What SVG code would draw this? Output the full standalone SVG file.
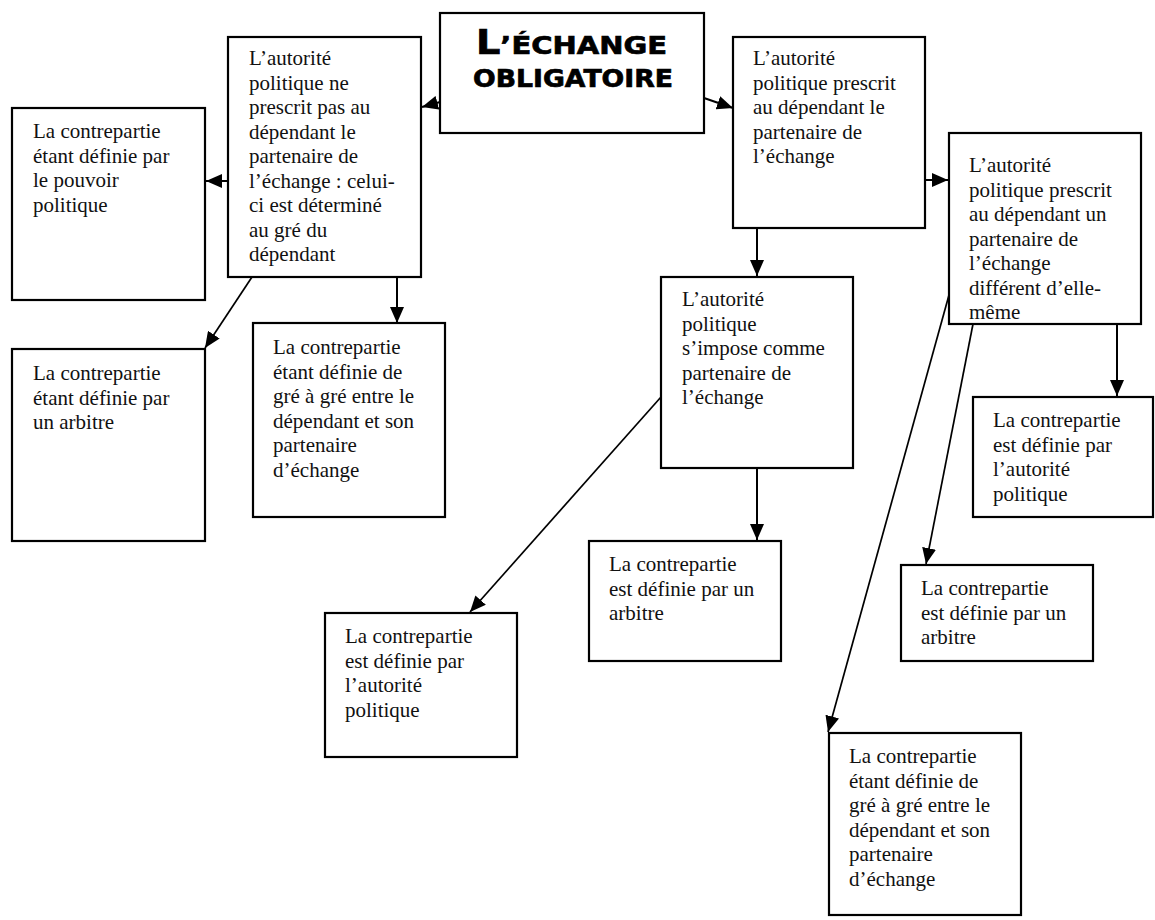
<svg xmlns="http://www.w3.org/2000/svg" width="1155" height="920" viewBox="0 0 1155 920">
<style>
.box{fill:#fff;stroke:#000;stroke-width:2.2}
.t{font-family:"Liberation Serif","Times New Roman",serif;font-size:21px;fill:#111}
.title{font-family:"DejaVu Sans",sans-serif;font-weight:bold;fill:#000;stroke:#000;stroke-width:0.7}
.c{stroke:#000;stroke-width:2;fill:none}
.d{stroke:#000;stroke-width:1.7;fill:none}
</style>
<defs>
<marker id="ah" viewBox="0 0 16 14" markerUnits="userSpaceOnUse" markerWidth="16" markerHeight="14" refX="16" refY="7" orient="auto">
<path d="M0,0 L16,7 L0,14 z" fill="#000"/>
</marker>
</defs>
<rect width="1155" height="920" fill="#fff"/>

<g id="connectors">
<line class="c" x1="440" y1="102" x2="422" y2="107" marker-end="url(#ah)"/>
<line class="c" x1="704" y1="98" x2="733" y2="108" marker-end="url(#ah)"/>
<line class="c" x1="228" y1="181" x2="206" y2="181" marker-end="url(#ah)"/>
<line class="d" x1="252" y1="277" x2="205" y2="348" marker-end="url(#ah)"/>
<line class="c" x1="397" y1="277" x2="397" y2="323" marker-end="url(#ah)"/>
<line class="c" x1="757" y1="228" x2="757" y2="276" marker-end="url(#ah)"/>
<line class="c" x1="925" y1="180" x2="948" y2="180" marker-end="url(#ah)"/>
<line class="d" x1="661" y1="397" x2="470" y2="612" marker-end="url(#ah)"/>
<line class="c" x1="757" y1="468" x2="757" y2="540" marker-end="url(#ah)"/>
<line class="c" x1="1117" y1="324" x2="1117" y2="396" marker-end="url(#ah)"/>
<line class="d" x1="973" y1="324" x2="926" y2="564" marker-end="url(#ah)"/>
<line class="d" x1="949" y1="295" x2="828" y2="732" marker-end="url(#ah)"/>
</g>

<g id="title">
<rect class="box" x="440" y="13" width="264" height="120"/>
<text class="title" x="476" y="54" textLength="191" lengthAdjust="spacingAndGlyphs"><tspan font-size="33">L</tspan><tspan font-size="25">’ÉCHANGE</tspan></text>
<text class="title" x="473" y="87" font-size="25" textLength="200" lengthAdjust="spacingAndGlyphs">OBLIGATOIRE</text>
</g>

<g id="nodeA">
<rect class="box" x="228" y="37" width="193" height="240"/>
<text class="t"><tspan x="249" y="65">L’autorité</tspan><tspan x="249" y="89.5">politique ne</tspan><tspan x="249" y="114">prescrit pas au</tspan><tspan x="249" y="138.5">dépendant le</tspan><tspan x="249" y="163">partenaire de</tspan><tspan x="249" y="187.5">l’échange : celui-</tspan><tspan x="249" y="212">ci est déterminé</tspan><tspan x="249" y="236.5">au gré du</tspan><tspan x="249" y="261">dépendant</tspan></text>
</g>

<g id="nodeB">
<rect class="box" x="12" y="108" width="193" height="192"/>
<text class="t"><tspan x="33" y="138">La contrepartie</tspan><tspan x="33" y="162.5">étant définie par</tspan><tspan x="33" y="187">le pouvoir</tspan><tspan x="33" y="211.5">politique</tspan></text>
</g>

<g id="nodeC">
<rect class="box" x="12" y="349" width="193" height="192"/>
<text class="t"><tspan x="33" y="380">La contrepartie</tspan><tspan x="33" y="404.5">étant définie par</tspan><tspan x="33" y="429">un arbitre</tspan></text>
</g>

<g id="nodeD">
<rect class="box" x="253" y="323" width="192" height="194"/>
<text class="t"><tspan x="273" y="354">La contrepartie</tspan><tspan x="273" y="378.5">étant définie de</tspan><tspan x="273" y="403">gré à gré entre le</tspan><tspan x="273" y="427.5">dépendant et son</tspan><tspan x="273" y="452">partenaire</tspan><tspan x="273" y="476.5">d’échange</tspan></text>
</g>

<g id="nodeE">
<rect class="box" x="733" y="37" width="192" height="191"/>
<text class="t"><tspan x="753" y="65">L’autorité</tspan><tspan x="753" y="89.5">politique prescrit</tspan><tspan x="753" y="114">au dépendant le</tspan><tspan x="753" y="138.5">partenaire de</tspan><tspan x="753" y="163">l’échange</tspan></text>
</g>

<g id="nodeF">
<rect class="box" x="949" y="133" width="192" height="191"/>
<text class="t"><tspan x="969" y="172">L’autorité</tspan><tspan x="969" y="196.5">politique prescrit</tspan><tspan x="969" y="221">au dépendant un</tspan><tspan x="969" y="245.5">partenaire de</tspan><tspan x="969" y="270">l’échange</tspan><tspan x="969" y="294.5">différent d’elle-</tspan><tspan x="969" y="319">même</tspan></text>
</g>

<g id="nodeG">
<rect class="box" x="661" y="277" width="192" height="191"/>
<text class="t"><tspan x="682" y="306">L’autorité</tspan><tspan x="682" y="330.5">politique</tspan><tspan x="682" y="355">s’impose comme</tspan><tspan x="682" y="379.5">partenaire de</tspan><tspan x="682" y="404">l’échange</tspan></text>
</g>

<g id="nodeH">
<rect class="box" x="973" y="397" width="180" height="120"/>
<text class="t"><tspan x="993" y="427">La contrepartie</tspan><tspan x="993" y="451.5">est définie par</tspan><tspan x="993" y="476">l’autorité</tspan><tspan x="993" y="500.5">politique</tspan></text>
</g>

<g id="nodeI">
<rect class="box" x="901" y="565" width="192" height="96"/>
<text class="t"><tspan x="921" y="595">La contrepartie</tspan><tspan x="921" y="619.5">est définie par un</tspan><tspan x="921" y="644">arbitre</tspan></text>
</g>

<g id="nodeJ">
<rect class="box" x="829" y="733" width="192" height="182"/>
<text class="t"><tspan x="849" y="763">La contrepartie</tspan><tspan x="849" y="787.5">étant définie de</tspan><tspan x="849" y="812">gré à gré entre le</tspan><tspan x="849" y="836.5">dépendant et son</tspan><tspan x="849" y="861">partenaire</tspan><tspan x="849" y="885.5">d’échange</tspan></text>
</g>

<g id="nodeK">
<rect class="box" x="325" y="613" width="192" height="144"/>
<text class="t"><tspan x="345" y="643">La contrepartie</tspan><tspan x="345" y="667.5">est définie par</tspan><tspan x="345" y="692">l’autorité</tspan><tspan x="345" y="716.5">politique</tspan></text>
</g>

<g id="nodeL">
<rect class="box" x="589" y="541" width="192" height="120"/>
<text class="t"><tspan x="609" y="571">La contrepartie</tspan><tspan x="609" y="595.5">est définie par un</tspan><tspan x="609" y="620">arbitre</tspan></text>
</g>
</svg>
